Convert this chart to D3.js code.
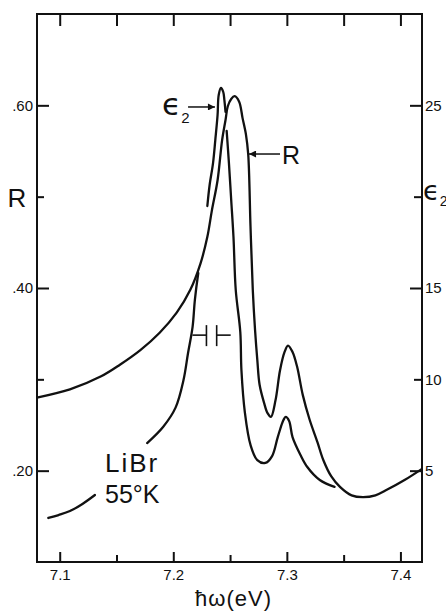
<!DOCTYPE html>
<html>
<head>
<meta charset="utf-8">
<script src="https://cdn.jsdelivr.net/npm/d3@7"></script>
<style>
  body { margin: 0; background: #fff; }
  svg { display: block; }
</style>
</head>
<body>
<div id="chart-area"></div>
<script>
/*
*    LiBr 55K : reflectance R and eps2 against photon energy
*/
var energyTicks = [7.1, 7.15, 7.2, 7.25, 7.3, 7.35, 7.4];
var energyLabels = ["7.1", "", "7.2", "", "7.3", "", "7.4"];
var rTicks = [0.2, 0.3, 0.4, 0.5, 0.6];
var rLabels = [".20", "", ".40", "", ".60"];
var eps2Ticks = [5, 10, 15, 20, 25];
var eps2Labels = ["5", "10", "15", "", "25"];

// reflectance curve
var rEnergy = [7.080, 7.109, 7.136, 7.153, 7.171, 7.188, 7.203, 7.215, 7.224, 7.230,
  7.234, 7.239, 7.243, 7.246, 7.248, 7.251, 7.254, 7.258, 7.261, 7.264,
  7.266, 7.268, 7.270, 7.272, 7.274, 7.276, 7.280, 7.283, 7.286, 7.290,
  7.294, 7.298, 7.301, 7.305, 7.309, 7.314, 7.320, 7.327, 7.332, 7.339,
  7.347, 7.357, 7.367, 7.378, 7.388, 7.404, 7.419];
var rValue = [0.280, 0.289, 0.303, 0.316, 0.332, 0.351, 0.373, 0.398, 0.427, 0.456,
  0.485, 0.518, 0.562, 0.584, 0.599, 0.607, 0.610, 0.604, 0.586, 0.568,
  0.546, 0.467, 0.398, 0.354, 0.321, 0.294, 0.274, 0.263, 0.259, 0.277,
  0.310, 0.330, 0.337, 0.330, 0.314, 0.283, 0.256, 0.231, 0.212, 0.194,
  0.182, 0.173, 0.171, 0.173, 0.179, 0.190, 0.202];

// eps2 curve, null = pen lifted (label / crossings)
var eps2Energy = [7.090, 7.099, 7.109, 7.120, 7.131, null,
  7.177, 7.191, 7.202, 7.209, 7.213, 7.217, 7.219, 7.222, null,
  7.230, 7.232, 7.235, 7.237, 7.239, 7.240, 7.242, 7.244, 7.245, 7.246, null,
  7.247, 7.249, 7.251, 7.253, 7.255, 7.259, 7.260, 7.263, 7.268, 7.274,
  7.281, 7.287, 7.292, 7.297, 7.299, 7.302, 7.305, 7.312, 7.318, 7.329, 7.342];
var eps2Value = [2.41, 2.57, 2.79, 3.18, 3.67, null,
  6.51, 7.39, 8.45, 9.96, 11.44, 12.87, 14.34, 15.82, null,
  19.49, 20.64, 21.84, 23.10, 24.47, 25.57, 25.95, 25.73, 25.29, 24.64, null,
  23.60, 21.84, 19.82, 17.79, 14.89, 12.59, 10.51, 8.21, 6.41, 5.58,
  5.42, 5.80, 6.84, 7.77, 7.94, 7.72, 6.84, 5.86, 5.20, 4.49, 4.11];

// spectral slit width marker
var slitCenter = 7.2337, slitWidth = 0.009, slitLevel = 12.42;

var margin = {top: 14, right: 24, bottom: 49, left: 37};
var width = 446 - margin.left - margin.right,
    height = 611 - margin.top - margin.bottom;
var ink = "#111";
var sans = "'Liberation Sans', Arial, sans-serif";
var epsFont = "'DejaVu Sans', sans-serif";

var svg = d3.select("#chart-area")
  .append("svg")
    .attr("width", 446)
    .attr("height", 611);

svg.append("defs").append("marker")
  .attr("id", "head")
  .attr("markerUnits", "userSpaceOnUse")
  .attr("viewBox", "0 0 10 10")
  .attr("refX", 10).attr("refY", 5)
  .attr("markerWidth", 8).attr("markerHeight", 7)
  .attr("orient", "auto")
  .append("path")
    .attr("d", "M0,0 L10,5 L0,10 Z")
    .attr("fill", ink);

var g = svg.append("g")
  .attr("transform", "translate(" + margin.left + ", " + margin.top + ")");

var x = d3.scaleLinear().domain([7.08, 7.419]).range([0, width]);
var yR = d3.scaleLinear().domain([0.10, 0.70]).range([height, 0]);
var yE = d3.scaleLinear().domain([0, 30]).range([height, 0]);

function styleAxis(sel) {
  sel.select(".domain").remove();
  sel.selectAll("text")
    .attr("font-family", sans)
    .attr("font-size", "15px")
    .attr("fill", ink);
}

// frame
g.append("rect")
  .attr("width", width).attr("height", height)
  .attr("fill", "none").attr("stroke", ink).attr("stroke-width", 2);

// curves
var rData = rEnergy.map((e, i) => ({e: e, v: rValue[i]}));
var eData = eps2Energy.map((e, i) => ({e: e, v: eps2Value[i]}));

var rLine = d3.line()
  .x(d => x(d.e)).y(d => yR(d.v))
  .curve(d3.curveCatmullRom.alpha(0.5));
var eLine = d3.line()
  .defined(d => d.v != null)
  .x(d => x(d.e)).y(d => yE(d.v))
  .curve(d3.curveCatmullRom.alpha(0.5));

g.append("path").datum(rData)
  .attr("d", rLine)
  .attr("fill", "none").attr("stroke", ink).attr("stroke-width", 2.3)
  .attr("stroke-linejoin", "round");
g.append("path").datum(eData)
  .attr("d", eLine)
  .attr("fill", "none").attr("stroke", ink).attr("stroke-width", 2.3)
  .attr("stroke-linecap", "round").attr("stroke-linejoin", "round");

// axes, ticks pointing into the frame
var xAxisGroup = g.append("g")
  .attr("transform", "translate(0, " + height + ")")
  .call(d3.axisBottom(x).tickValues(energyTicks).tickSizeInner(-10).tickSizeOuter(0)
    .tickPadding(7).tickFormat((d, i) => energyLabels[i]));
styleAxis(xAxisGroup);

var topGroup = g.append("g")
  .call(d3.axisTop(x).tickValues(energyTicks).tickSizeInner(-12).tickSizeOuter(0)
    .tickFormat(() => ""));
styleAxis(topGroup);

var yAxisGroup = g.append("g")
  .call(d3.axisLeft(yR).tickValues(rTicks).tickSizeInner(-12).tickSizeOuter(0)
    .tickPadding(4).tickFormat((d, i) => rLabels[i]));
styleAxis(yAxisGroup);

var y2AxisGroup = g.append("g")
  .attr("transform", "translate(" + width + ", 0)")
  .call(d3.axisRight(yE).tickValues(eps2Ticks).tickSizeInner(-12).tickSizeOuter(0)
    .tickPadding(3).tickFormat((d, i) => eps2Labels[i]));
styleAxis(y2AxisGroup);

// tick lengths: major / minor
g.selectAll(".tick line")
  .attr("stroke", ink)
  .attr("stroke-width", 2);
xAxisGroup.selectAll(".tick line").attr("y2", (d, i) => i % 2 === 0 ? -10 : -7);
yAxisGroup.selectAll(".tick line").attr("x2", (d, i) => i % 2 === 0 ? 12 : 7);
y2AxisGroup.selectAll(".tick line").attr("x2", (d, i) => i % 2 === 0 ? -12 : -8);

// slit width marker
var sy = yE(slitLevel);
var sl = x(slitCenter - slitWidth / 2), sr = x(slitCenter + slitWidth / 2);
var mark = g.append("g").attr("stroke", ink).attr("stroke-width", 1.6);
mark.append("line").attr("x1", sl - 14).attr("x2", sl).attr("y1", sy).attr("y2", sy);
mark.append("line").attr("x1", sr).attr("x2", sr + 14).attr("y1", sy).attr("y2", sy);
mark.append("line").attr("x1", sl).attr("x2", sl).attr("y1", sy - 10).attr("y2", sy + 11);
mark.append("line").attr("x1", sr).attr("x2", sr).attr("y1", sy - 10).attr("y2", sy + 11);

// arrows
var ay = yE(24.91);
g.append("line")
  .attr("x1", x(7.2130)).attr("x2", x(7.2367)).attr("y1", ay).attr("y2", ay)
  .attr("stroke", ink).attr("stroke-width", 1.5).attr("marker-end", "url(#head)");
var by = yR(0.5467);
g.append("line")
  .attr("x1", x(7.2940)).attr("x2", x(7.2667)).attr("y1", by).attr("y2", by)
  .attr("stroke", ink).attr("stroke-width", 1.5).attr("marker-end", "url(#head)");

// eps2 curve label
var epsLabel = g.append("text")
  .attr("x", x(7.2130) - 26).attr("y", ay + 8)
  .attr("font-family", epsFont).attr("font-size", "31px").attr("fill", ink);
epsLabel.append("tspan").text("\u03F5");
epsLabel.append("tspan").attr("dy", 8).attr("font-size", "15px").attr("font-family", sans).text("2");

// R curve label
g.append("text")
  .attr("x", x(7.2940) + 2).attr("y", by + 10)
  .attr("font-family", sans).attr("font-size", "25px").attr("fill", ink)
  .text("R");

// axis titles
svg.append("text")
  .attr("x", 17).attr("y", margin.top + yR(0.5) + 10)
  .attr("text-anchor", "middle")
  .attr("font-family", sans).attr("font-size", "26px").attr("fill", ink)
  .text("R");

var rightLab = svg.append("text")
  .attr("x", margin.left + width + 1).attr("y", margin.top + yE(20) + 3)
  .attr("font-family", epsFont).attr("font-size", "27px").attr("fill", ink);
rightLab.append("tspan").text("\u03F5");
rightLab.append("tspan").attr("dy", 6).attr("font-size", "14px").attr("font-family", sans).text("2");

svg.append("text")
  .attr("x", margin.left + width / 2 + 4).attr("y", 606)
  .attr("text-anchor", "middle")
  .attr("font-family", sans).attr("font-size", "22px").attr("fill", ink)
  .attr("letter-spacing", "1px")
  .text("\u0127\u03C9(eV)");

// sample label
svg.append("text")
  .attr("x", 105).attr("y", 472)
  .attr("font-family", sans).attr("font-size", "26px").attr("fill", ink)
  .attr("letter-spacing", "2px")
  .text("LiBr");
svg.append("text")
  .attr("x", 105).attr("y", 503)
  .attr("font-family", sans).attr("font-size", "25px").attr("fill", ink)
  .text("55\u00B0K");
</script>
</body>
</html>
